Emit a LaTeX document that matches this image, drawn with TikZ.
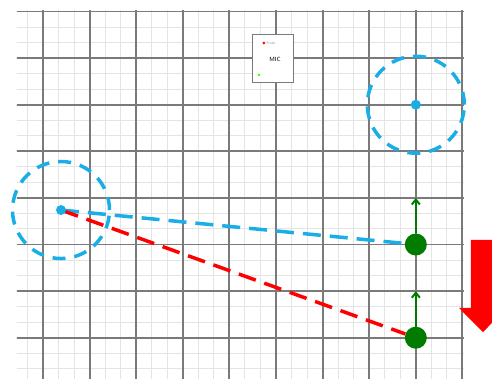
\documentclass[tikz,border=0pt]{standalone}
\usetikzlibrary{arrows.meta,positioning}
\definecolor{skyblue}{RGB}{27,174,230}
\definecolor{leafgreen}{RGB}{0,125,0}
\definecolor{gridgray}{RGB}{122,122,122}
\definecolor{minorgray}{RGB}{228,228,228}
\pgfdeclarelayer{gridlayer}
\pgfdeclarelayer{linklayer}
\pgfsetlayers{gridlayer,linklayer,main}
\begin{document}
\begin{tikzpicture}[x=46.6pt,y=46.6pt,
  major/.style={gridgray,line width=1.9pt},
  minor/.style={minorgray,line width=1pt},
  ring/.style={circle,draw=skyblue,dash pattern=on 13pt off 9pt,line width=3.5pt,minimum size=97pt,inner sep=0pt},
  bluedot/.style={circle,fill=skyblue,minimum size=10pt,inner sep=0pt},
  greendot/.style={circle,fill=leafgreen,minimum size=22pt,inner sep=0pt},
  link/.style={dash pattern=on 18pt off 9pt,line width=3.5pt},
  lift/.style={leafgreen,line width=2pt,-{Straight Barb[length=5pt,width=8pt]}}]
\useasboundingbox (-0.923,0.247) rectangle (9.635,-7.865);
% Grid
\begin{pgfonlayer}{gridlayer}
\begin{scope}
\clip (-0.56,0.03) rectangle (9.03,-7.865);
\foreach \k in {-2,...,27} \draw[minor] (\k/3,0.3) -- (\k/3,-8);
\foreach \k in {0,...,24} \draw[minor] (-1,-\k/3) -- (9.1,-\k/3);
\foreach \k in {0,...,9} \draw[major] (\k,0.3) -- (\k,-8);
\foreach \k in {0,...,8} \draw[major] (-1,-\k) -- (9.1,-\k);
\end{scope}
\end{pgfonlayer}
% MIC box
\node[draw=gridgray,fill=white,line width=1pt,minimum width=41pt,minimum height=48pt,inner sep=0pt] (mic) at (4.925,-1.0) {};
\node[font=\sffamily\fontsize{6}{6}\selectfont] (miclabel) at (4.98,-1.02) {MIC};
\node[circle,fill=red,minimum size=3pt,inner sep=0pt] (frontdot) at (4.74,-0.676) {};
\node[right=0.8pt of frontdot,font=\sffamily\fontsize{3.5}{4}\selectfont,text=gray,inner sep=0pt] (front) {Front};
\node[circle,fill=green!70!yellow,minimum size=3pt,inner sep=0pt] (micdot) at (4.635,-1.36) {};
% Target range
\node[ring] (targetring) at (8,-2) {};
\node[bluedot] (target) at (8,-2) {};
% Source range
\node[ring] (srcring) at (0.386,-4.26) {};
\node[bluedot] (src) at (0.386,-4.26) {};
% Green dots and their lift
\node[greendot] (dotA) at (8,-5) {};
\node[greendot] (dotB) at (8,-7) {};
\coordinate (tipA) at (8,-4);
\coordinate (tipB) at (8,-6);
\draw[lift] (dotA) -- (tipA);
\draw[lift] (dotB) -- (tipB);
% Links
\begin{pgfonlayer}{linklayer}
\draw[link,skyblue] (src.center) -- (dotA);
\draw[link,red] (src.center) -- (dotB);
\end{pgfonlayer}
% Big red arrow
\fill[red] (9.183,-4.90) -- (9.697,-4.90) -- (9.697,-6.36) -- (9.955,-6.36) -- (9.44,-6.88) -- (8.925,-6.36) -- (9.183,-6.36) -- cycle;
\end{tikzpicture}
\end{document}
